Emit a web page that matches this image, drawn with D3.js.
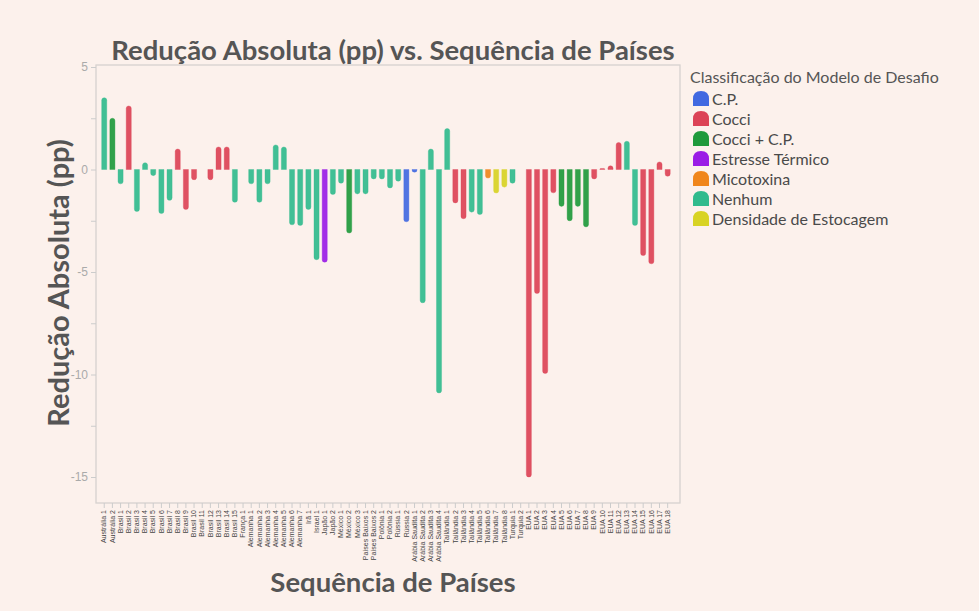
<!DOCTYPE html>
<html lang="pt">
<head>
<meta charset="UTF-8">
<title>Redução Absoluta (pp) vs. Sequência de Países</title>
<script src="https://d3js.org/d3.v7.min.js"></script>
<style>
  body { margin: 0; background: #fcf1ec; font-family: Lato, "Open Sans", sans-serif; }
  .titulo { font-weight: 700; fill: #555; }
  .eixo-y text { fill: #aaa; font-size: 12px; }
  .eixo-x text { fill: #444; font-size: 7px; }
  .legenda text { fill: #4a4a4a; font-size: 16px; }
</style>
</head>
<body>
<div id="chart"></div>
<script>
// categorias do eixo x
const paises = [
  "Austrália 1", "Austrália 2", "Brasil 1", "Brasil 2", "Brasil 3", "Brasil 4", "Brasil 5",
  "Brasil 6", "Brasil 7", "Brasil 8", "Brasil 9", "Brasil 10", "Brasil 11", "Brasil 12",
  "Brasil 13", "Brasil 14", "Brasil 15", "França 1", "Alemanha 1", "Alemanha 2", "Alemanha 3",
  "Alemanha 4", "Alemanha 5", "Alemanha 6", "Alemanha 7", "Irã 1", "Israel 1", "Japão 1",
  "Japão 2", "México 1", "México 2", "México 3", "Países Baixos 1", "Países Baixos 2",
  "Polônia 1", "Polônia 2", "Rússia 1", "Rússia 2", "Arábia Saudita 1", "Arábia Saudita 2",
  "Arábia Saudita 3", "Arábia Saudita 4", "Tailândia 1", "Tailândia 2", "Tailândia 3",
  "Tailândia 4", "Tailândia 5", "Tailândia 6", "Tailândia 7", "Tailândia 8", "Turquia 1",
  "Turquia 2", "EUA 1", "EUA 2", "EUA 3", "EUA 4", "EUA 5", "EUA 6", "EUA 7", "EUA 8",
  "EUA 9", "EUA 10", "EUA 11", "EUA 12", "EUA 13", "EUA 14", "EUA 15", "EUA 16", "EUA 17", "EUA 18"
];

// redução absoluta (pp)
const reducao = [
  3.5, 2.5, -0.7, 3.1, -2.05, 0.33, -0.3, -2.15, -1.5, 1.0, -1.95, -0.5, 0, -0.5,
  1.1, 1.1, -1.6, 0, -0.7, -1.6, -0.7, 1.2, 1.1, -2.7, -2.73, -1.95, -4.4, -4.52,
  -1.22, -0.67, -3.1, -1.19, -1.19, -0.46, -0.46, -0.9, -0.57, -2.55, -0.13, -6.5,
  1.0, -10.9, 2.0, -1.63, -2.4, -2.08, -2.2, -0.42, -1.15, -0.86, -0.67, 0,
  -15.0, -6.05, -9.95, -1.14, -1.8, -2.5, -1.8, -2.8, -0.46, 0.05, 0.18, 1.32,
  1.38, -2.73, -4.2, -4.6, 0.37, -0.33
];

// classificação do modelo de desafio de cada barra
const classe = [
  "Nenhum", "Cocci + C.P.", "Nenhum", "Cocci", "Nenhum", "Nenhum", "Nenhum",
  "Nenhum", "Nenhum", "Cocci", "Cocci", "Cocci", "Cocci", "Cocci",
  "Cocci", "Cocci", "Nenhum", "Nenhum", "Nenhum", "Nenhum", "Nenhum",
  "Nenhum", "Nenhum", "Nenhum", "Nenhum", "Nenhum", "Nenhum", "Estresse Térmico",
  "Nenhum", "Nenhum", "Cocci + C.P.", "Nenhum", "Nenhum", "Nenhum", "Nenhum",
  "Nenhum", "Nenhum", "C.P.", "C.P.", "Nenhum", "Nenhum", "Nenhum",
  "Nenhum", "Cocci", "Cocci", "Nenhum", "Nenhum", "Micotoxina",
  "Densidade de Estocagem", "Densidade de Estocagem", "Nenhum", "Nenhum",
  "Cocci", "Cocci", "Cocci", "Cocci", "Cocci + C.P.", "Cocci + C.P.", "Cocci + C.P.",
  "Cocci + C.P.", "Cocci", "Cocci", "Cocci", "Cocci", "Nenhum", "Nenhum",
  "Cocci", "Cocci", "Cocci", "Cocci"
];

const legendaNomes = ["C.P.", "Cocci", "Cocci + C.P.", "Estresse Térmico", "Micotoxina", "Nenhum", "Densidade de Estocagem"];
const legendaCores = ["#4169e1", "#dc4356", "#1f9a3c", "#9a1de6", "#f0861c", "#31bb8d", "#d8d324"];

const yTicks = [5, 2.5, 0, -2.5, -5, -7.5, -10, -12.5, -15];
const yRotulos = [5, 0, -5, -10, -15];

const W = 979, H = 611;
const frame = { left: 96, right: 680, top: 65, bottom: 503 };

const svg = d3.select("#chart").append("svg")
    .attr("width", W)
    .attr("height", H);

const x = d3.scaleBand()
    .domain(paises)
    .range([98.6, 673.3])
    .padding(0.38);

const y = d3.scaleLinear()
    .domain([-15, 5])
    .range([477, 67]);

const cor = d3.scaleOrdinal().domain(legendaNomes).range(legendaCores);

// moldura da área do gráfico
svg.append("rect")
    .attr("x", frame.left)
    .attr("y", frame.top)
    .attr("width", frame.right - frame.left)
    .attr("height", frame.bottom - frame.top)
    .attr("fill", "none")
    .attr("stroke", "#d6d2cf")
    .attr("stroke-width", 1.3);

// eixo y
const eixoY = svg.append("g")
    .attr("class", "eixo-y")
    .attr("transform", `translate(${frame.left},0)`)
    .call(d3.axisLeft(y).tickValues(yTicks).tickSize(5)
        .tickFormat(d => yRotulos.includes(d) ? d3.format("d")(d).replace("−", "-") : ""));
eixoY.select(".domain").remove();
eixoY.selectAll("line").attr("stroke", "#ccc");

// eixo x
const eixoX = svg.append("g")
    .attr("class", "eixo-x")
    .attr("transform", `translate(0,${frame.bottom})`)
    .call(d3.axisBottom(x).tickSize(5).tickSizeOuter(0));
eixoX.select(".domain").remove();
eixoX.selectAll("line").attr("stroke", "#ccc");
eixoX.selectAll("text")
    .attr("transform", "rotate(-90)")
    .attr("text-anchor", "end")
    .attr("x", -7)
    .attr("y", 0)
    .attr("dy", "0.32em");

// barras com ponta arredondada
function barra(d, i) {
  const v = reducao[i];
  const x0 = x(d), w = x.bandwidth();
  const y0 = y(0), y1 = y(v);
  const h = Math.abs(y1 - y0);
  const r = Math.min(w / 2, h);
  if (h === 0) return "";
  if (v >= 0) {
    return `M${x0},${y0} L${x0},${y1 + r} Q${x0},${y1} ${x0 + r},${y1} L${x0 + w - r},${y1} Q${x0 + w},${y1} ${x0 + w},${y1 + r} L${x0 + w},${y0} Z`;
  }
  return `M${x0},${y0} L${x0},${y1 - r} Q${x0},${y1} ${x0 + r},${y1} L${x0 + w - r},${y1} Q${x0 + w},${y1} ${x0 + w},${y1 - r} L${x0 + w},${y0} Z`;
}

svg.append("g")
    .selectAll("path")
    .data(paises)
    .join("path")
    .attr("d", barra)
    .attr("fill", (d, i) => cor(classe[i]))
    .attr("fill-opacity", 0.92)
    .attr("stroke", (d, i) => cor(classe[i]))
    .attr("stroke-opacity", 0.35)
    .attr("stroke-width", 1);

// títulos
svg.append("text")
    .attr("class", "titulo")
    .attr("x", 393)
    .attr("y", 60)
    .attr("text-anchor", "middle")
    .style("font-size", "27.5px")
    .text("Redução Absoluta (pp) vs. Sequência de Países");

svg.append("text")
    .attr("class", "titulo")
    .attr("transform", "translate(69,283) rotate(-90)")
    .attr("text-anchor", "middle")
    .style("font-size", "29px")
    .text("Redução Absoluta (pp)");

svg.append("text")
    .attr("class", "titulo")
    .attr("x", 393)
    .attr("y", 592)
    .attr("text-anchor", "middle")
    .style("font-size", "27.5px")
    .text("Sequência de Países");

// legenda
const legenda = svg.append("g").attr("class", "legenda");
legenda.append("text")
    .attr("x", 690)
    .attr("y", 83)
    .style("font-size", "16px")
    .style("fill", "#555")
    .text("Classificação do Modelo de Desafio");

const item = legenda.selectAll(".item")
    .data(legendaNomes)
    .join("g")
    .attr("class", "item")
    .attr("transform", (d, i) => `translate(693,${91 + i * 20})`);

item.append("path")
    .attr("d", "M0,15 L0,8 Q0,0 8,0 Q16,0 16,8 L16,15 Z")
    .attr("fill", d => cor(d));

item.append("text")
    .attr("x", 19)
    .attr("y", 13.5)
    .text(d => d);
</script>
</body>
</html>
